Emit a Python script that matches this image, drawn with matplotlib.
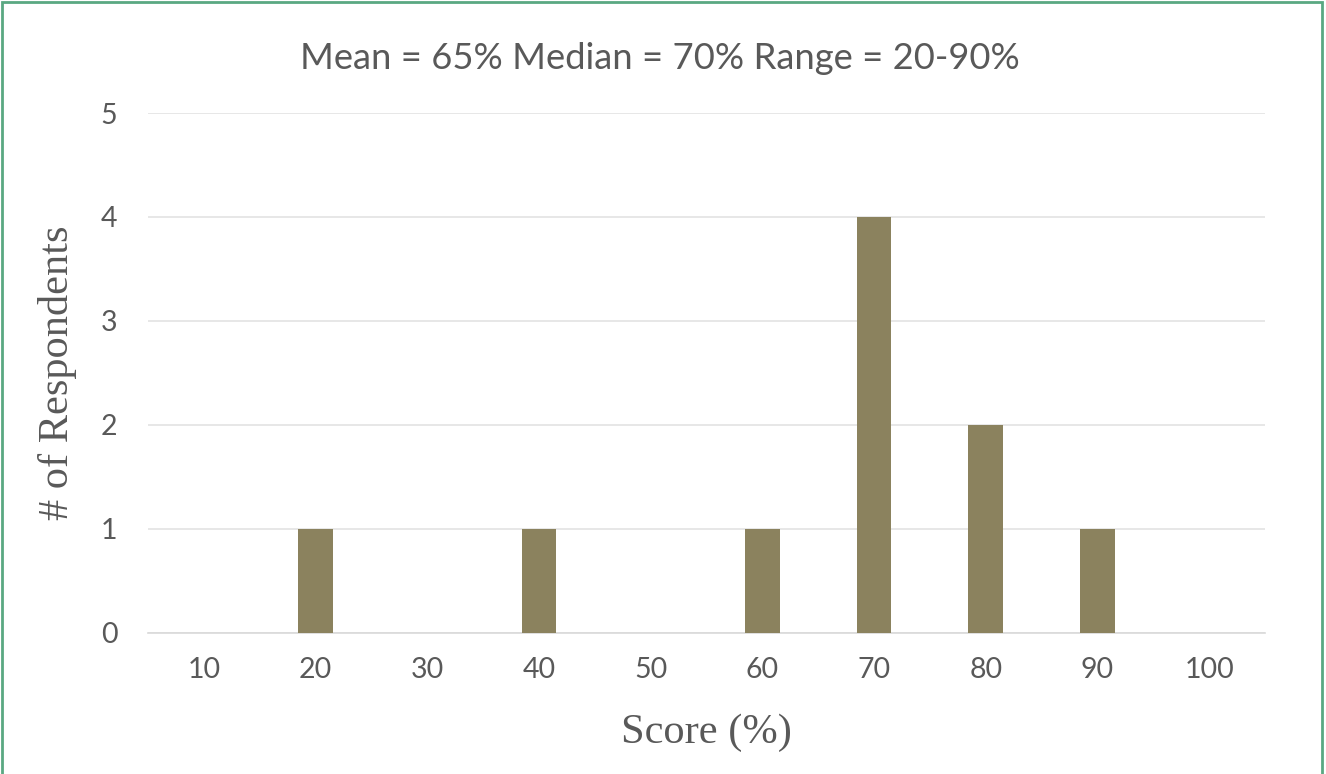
import matplotlib.pyplot as plt
import numpy as np
from matplotlib.patches import Rectangle

# Data
scores = ['10', '20', '30', '40', '50', '60', '70', '80', '90', '100']
respondents = [0, 1, 0, 1, 0, 1, 4, 2, 1, 0]
y_ticks = [0, 1, 2, 3, 4, 5]
title_text = 'Mean = 65% Median = 70% Range = 20-90%'

bar_color = '#8b825e'
text_color = '#595959'

fig = plt.figure(figsize=(13.26, 7.74), dpi=100)
ax = fig.add_axes([0.1116, 0.1822, 0.8424, 0.6718])

x = np.arange(len(scores))
ax.bar(x, respondents, width=0.31, color=bar_color, zorder=3)

ax.set_xlim(-0.5, len(scores) - 0.5)
ax.set_ylim(0, 5)
ax.set_xticks(x)
ax.set_xticklabels(scores)
ax.set_yticks(y_ticks)

ax.grid(axis='y', color='#e3e3e3', linewidth=1.2, zorder=0)
for side in ['top', 'right', 'left']:
    ax.spines[side].set_visible(False)
ax.spines['bottom'].set_color('#d9d9d9')
ax.spines['bottom'].set_linewidth(1.2)
ax.tick_params(axis='both', length=0, labelsize=20.5, labelcolor=text_color, pad=17)
ax.tick_params(axis='y', pad=22)
for lbl in ax.get_xticklabels() + ax.get_yticklabels():
    lbl.set_family('Lato')

ax.set_xlabel('Score (%)', family='Liberation Serif', fontsize=30.5, color=text_color, labelpad=22)
ax.set_ylabel('# of Respondents', family='Liberation Serif', fontsize=30.5, color=text_color, labelpad=17)

fig.text(0.4977, 0.925, title_text, ha='center', va='center', family='Lato', fontsize=26.2, color=text_color)

# figure border
fig.patches.append(Rectangle((0.0015, -0.01), 0.9955, 1.007, transform=fig.transFigure,
                             fill=False, edgecolor='#5aa882', linewidth=2))

fig.savefig('out.png', dpi=100)
